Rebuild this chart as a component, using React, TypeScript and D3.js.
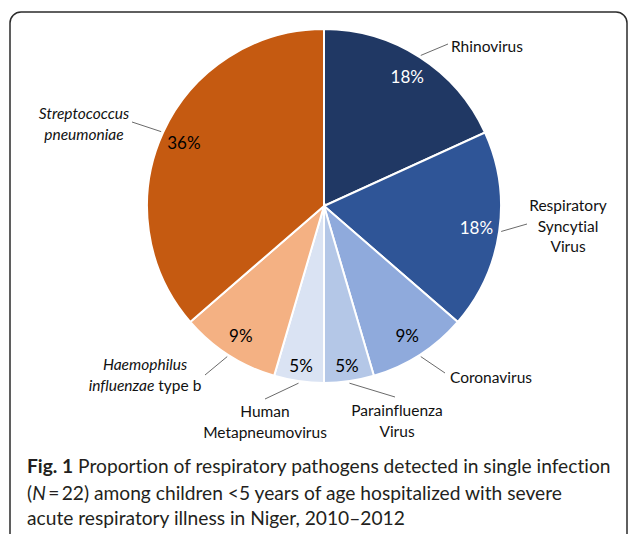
import * as d3 from "d3";

// pathogens, clockwise from 12 o'clock
const categories = [
  "Rhinovirus",
  "Respiratory Syncytial Virus",
  "Coronavirus",
  "Parainfluenza Virus",
  "Human Metapneumovirus",
  "Haemophilus influenzae type b",
  "Streptococcus pneumoniae",
];
const counts = [4, 4, 2, 1, 1, 2, 8];
const colors = ["#203864", "#2f5597", "#8faadc", "#b4c7e7", "#dae3f3", "#f4b183", "#c55a11"];
const pctColors = ["#fff", "#fff", "#000", "#000", "#000", "#000", "#000"];

// label text pieces: [text, italic]
const labelLines: [string, boolean][][] = [
  [["Rhinovirus", false]],
  [["Respiratory", false]], // continued below
  [["Coronavirus", false]],
  [["Parainfluenza", false]],
  [["Human", false]],
  [["Haemophilus", true]],
  [["Streptococcus", true]],
];
const extraLines: [string, boolean][][][] = [
  [],
  [[["Syncytial", false]], [["Virus", false]]],
  [],
  [[["Virus", false]]],
  [[["Metapneumovirus", false]]],
  [[["influenzae", true], [" type b", false]]],
  [[["pneumoniae", true]]],
];

const width = 629;
const height = 534;
const cx = 324;
const cy = 206;
const radius = 177;

// label layout: anchor point of first line, alignment, leader end near label
const labelPos = [
  { x: 451, y: 46, anchor: "start", lx: 448, ly: 44 },
  { x: 568, y: 205, anchor: "middle", lx: 527, ly: 224 },
  { x: 450, y: 377, anchor: "start", lx: 445, ly: 373 },
  { x: 397, y: 410, anchor: "middle", lx: 395, ly: 397 },
  { x: 265, y: 411, anchor: "middle", lx: 265, ly: 399 },
  { x: 145, y: 364, anchor: "middle", lx: 205, ly: 375 },
  { x: 84, y: 113, anchor: "middle", lx: 132, ly: 122 },
];

const font = "Lato, 'Open Sans', sans-serif";

export default function App() {
  const total = d3.sum(counts);
  const pie = d3
    .pie<number>()
    .sort(null)
    .value((d) => d);
  const arcs = pie(counts);
  const arc = d3.arc<d3.PieArcDatum<number>>().innerRadius(0).outerRadius(radius);
  const edgeArc = d3
    .arc<d3.PieArcDatum<number>>()
    .innerRadius(radius + 2)
    .outerRadius(radius + 2);

  return (
    <svg
      width={width}
      height={height}
      style={{ position: "absolute", left: 0, top: 0, background: "#fff", fontVariantLigatures: "none" }}
    >
      <rect
        x={10}
        y={12}
        width={617}
        height={560}
        rx={11}
        fill="none"
        stroke="#2b2b2b"
        strokeWidth={1.5}
      />
      <g transform={`translate(${cx},${cy})`}>
        {arcs.map((a, i) => (
          <path key={categories[i]} d={arc(a) || ""} fill={colors[i]} stroke="#fff" strokeWidth={2} />
        ))}
        {arcs.map((a, i) => {
          const r = a.data / total < 0.06 ? radius * 0.91 : radius * 0.87;
          const [px, py] = d3
            .arc<d3.PieArcDatum<number>>()
            .innerRadius(r)
            .outerRadius(r)
            .centroid(a);
          return (
            <text
              key={"p" + i}
              x={px}
              y={py}
              textAnchor="middle"
              dominantBaseline="central"
              fontFamily={font}
              fontSize={17}
              fill={pctColors[i]}
            >
              {Math.round((a.data / total) * 100)}%
            </text>
          );
        })}
      </g>
      {arcs.map((a, i) => {
        const [ex, ey] = edgeArc.centroid(a);
        const p = labelPos[i];
        return (
          <line
            key={"l" + i}
            x1={cx + ex}
            y1={cy + ey}
            x2={p.lx}
            y2={p.ly}
            stroke="#595959"
            strokeWidth={0.9}
          />
        );
      })}
      {labelPos.map((p, i) => {
        const lines = [labelLines[i], ...extraLines[i]];
        return (
          <text
            key={"t" + i}
            x={p.x}
            y={p.y}
            textAnchor={p.anchor}
            fontFamily={font}
            fontSize={15.5}
            fill="#111"
            dominantBaseline="central"
          >
            {lines.map((ln, j) => (
              <tspan key={j} x={p.x} y={p.y + j * 20.5}>
                {ln.map(([s, it], k) => (
                  <tspan key={k} fontStyle={it ? "italic" : "normal"}>
                    {s}
                  </tspan>
                ))}
              </tspan>
            ))}
          </text>
        );
      })}
      <g fontFamily={font} fontSize={19.2} fill="#231f20">
        <text x={27} y={473}>
          <tspan fontWeight="bold">Fig. 1</tspan> Proportion of respiratory pathogens detected in single infection
        </text>
        <text x={27} y={500}>
          (<tspan fontStyle="italic">N</tspan>{"\u2009=\u200922) among children <5 years of age hospitalized with severe"}
        </text>
        <text x={27} y={525}>
          acute respiratory illness in Niger, 2010–2012
        </text>
      </g>
    </svg>
  );
}
